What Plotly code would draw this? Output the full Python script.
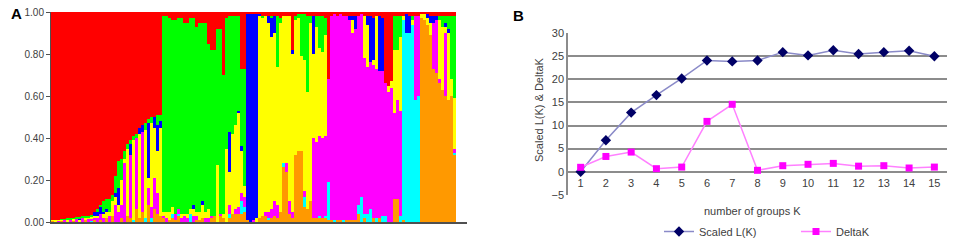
import plotly.graph_objects as go

# ---------------- Panel A : STRUCTURE membership (percent), one value per individual ----------------
RED = [
    99, 99, 99, 98.5, 98.5, 98, 98, 98, 97.5, 97.5, 97, 97, 97, 96.5, 95, 94, 92, 90, 89, 89, 87, 78, 71, 70, 66, 63, 61, 59, 58, 55, 54, 53, 51, 50, 50, 49, 49,
    2, 2, 3, 4, 4, 3, 3, 5, 5, 3, 3, 7, 5, 5, 5, 15, 18, 18, 8, 8, 30, 3, 2, 2, 2, 2, 27, 27,
    1, 1, 1, 1,
    1, 2, 2, 2, 2, 2, 2, 3, 2, 2, 2, 18, 2, 1, 1, 1, 2, 2, 2, 2, 2, 2, 3, 32,
    2, 1, 2, 1, 2, 2, 2, 2, 2, 2, 1, 2, 2, 2, 3, 2, 2, 3, 34, 35, 33, 2, 2, 2,
    2, 1, 2, 2, 2, 2,
    1, 1, 1, 2, 2, 2, 2, 2, 2, 2, 2, 2,
]
GREEN = [
    0, 0, 0, .5, .5, 1, 1, .5, 1, 1, 1, 1, 1, 1, 0, 1, 1, 5, 5, 6, 3, 8, 13, 10, 4, 2, 2, 2, 2, 0, 0, 3, 2, 3, 0, 5, 3,
    93, 93, 92, 89, 92, 91, 93, 91, 91, 91, 89, 88, 90, 85, 90, 79, 79, 79, 65, 88, 66, 62, 55, 56, 52, 45, 37, 56,
    0, 0, 0, 0,
    0, 1, 0, 0, 1, 0, 24, 2, 0, 0, 0, 0, 2, 2, 20, 22, 36, 3, 0, 5, 15, 17, 8, 0,
    0, 0, 0, 0, 0, 0, 0, 0, 0, 0, 0, 0, 0, 0, 0, 0, 0, 0, 0, 0, 0, 16, 16, 10,
    0, 0, 0, 2, 0, 0,
    0, 0, 0, 0, 0, 0, 2, 5, 3, 6, 30, 39,
]
BLUE = [
    0, 0, 0, 0, 0, 0, 0, 0, 0, .5, 0, 0, 0, 0, 2, 2, 3, 1, 1, 0, 0, 2, 8, 0, 0, 0, 5, 0, 0, 3, 3, 0, 26, 0, 5, 12, 3,
    0, 0, 0, 0, 0, 0, 0, 0, 0, 0, 2, 0, 0, 2, 0, 0, 0, 0, 0, 0, 0, 0, 19, 0, 0, 1, 2, 0,
    98, 99, 98, 97,
    1, 0, 0, 3, 9, 8, 0, 0, 0, 0, 0, 2, 0, 0, 0, 0, 0, 0, 18, 0, 0, 0, 0, 0,
    0, 0, 0, 0, 0, 0, 2, 2, 6, 0, 0, 0, 4, 22, 20, 0, 26, 25, 0, 0, 0, 0, 0, 0,
    0, 9, 8, 0, 0, 0,
    0, 0, 2, 3, 3, 2, 0, 0, 2, 2, 0, 0,
]
YELLOW = [
    .5, 1, .5, .5, 0, 1, 0, 1, 0, 1, 0, 1, .5, 1, 1, 1, 0, 2, 3, 2, 7, 4, 3, 12, 2, 32, 0, 38, 0, 40, 0, 42, 5, 40, 24, 20, 42,
    2, 3, 4, 3, 0, 0, 2, 1, 2, 2, 3, 2, 4, 6, 3, 4, 0, 0, 27, 0, 2, 35, 16, 38, 40, 45, 20, 5,
    0, 0, 0, 2,
    96, 94, 93, 90, 82, 80, 66, 90, 70, 70, 88, 75, 64, 63, 45, 62, 56, 85, 40, 55, 42, 41, 48, 0,
    0, 0, 0, 0, 0, 0, 0, 6, 0, 0, 0, 20, 20, 0, 2, 25, 0, 0, 0, 3, 3, 30, 24, 35,
    2, 0, 0, 2, 0, 0,
    2, 3, 3, 6, 0, 0, 28, 30, 3, 32, 8, 24,
]
MAGENTA = [
    0, 0, .5, 0, 1, 0, 1, 0, 1.5, 0, 2, 0, 1.5, 1, 1, 2, 3, 2, 0, 3, 0, 8, 5, 6, 28, 0, 30, 0, 34, 0, 38, 0, 8, 5, 15, 10, 0,
    1, 2, 0, 0, 3, 2, 2, 3, 2, 0, 3, 2, 0, 0, 2, 2, 1, 0, 0, 1, 0, 0, 4, 0, 2, 3, 4, 5,
    0, 0, 1, 0,
    0, 0, 2, 3, 4, 7, 6, 0, 0, 4, 6, 3, 0, 0, 0, 3, 0, 0, 38, 36, 38, 38, 38, 49,
    97, 98, 97, 98, 97, 97, 95, 89, 91, 90, 87, 74, 70, 70, 73, 71, 70, 69, 63, 62, 64, 41, 47, 50,
    0, 0, 0, 0, 40, 38,
    0, 0, 0, 0, 22, 25, 2, 0, 30, 0, 0, 2,
]
CYAN = [
    0, 0, 0, 0, 0, 0, 0, 0, 0, 0, 0, 0, 0, .5, 0, 0, 0, 0, 0, 0, 0, 0, 0, 0, 0, 0, 0, 1, 0, 0, 0, 2, 0, 2, 0, 0, 0,
    0, 0, 0, 2, 0, 1, 0, 0, 0, 4, 0, 0, 0, 0, 0, 0, 0, 0, 0, 0, 0, 0, 2, 0, 0, 0, 6, 2,
    0, 0, 0, 0,
    0, 0, 0, 1, 0, 0, 0, 0, 2, 0, 0, 0, 0, 0, 0, 5, 0, 0, 0, 0, 1, 0, 1, 18,
    0, 1, 0, 0, 1, 0, 0, 0, 0, 4, 12, 2, 4, 6, 0, 2, 0, 3, 3, 0, 0, 0, 0, 3,
    95, 90, 90, 94, 58, 60,
    0, 0, 0, 0, 0, 0, 0, 0, 0, 0, 0, 1,
]
ORANGE = [
    .5, 0, 0, .5, 0, 0, 0, .5, 0, 0, 0, 1, 0, 0, 1, 0, 1, 0, 2, 0, 3, 0, 0, 2, 0, 3, 2, 0, 6, 2, 5, 0, 8, 0, 6, 4, 3,
    2, 0, 1, 2, 1, 3, 0, 0, 0, 0, 0, 1, 1, 2, 0, 0, 2, 3, 0, 3, 2, 0, 2, 4, 4, 4, 4, 5,
    1, 0, 0, 0,
    2, 3, 3, 1, 2, 3, 2, 5, 26, 24, 4, 2, 32, 34, 34, 7, 6, 10, 2, 2, 2, 2, 2, 1,
    1, 0, 1, 1, 0, 1, 1, 1, 1, 4, 0, 2, 0, 0, 2, 0, 2, 0, 0, 0, 0, 11, 11, 0,
    1, 0, 0, 0, 0, 0,
    97, 96, 94, 89, 73, 71, 66, 63, 60, 58, 60, 32,
]
A_TICKS = [0.0, 0.2, 0.4, 0.6, 0.8, 1.0]

# ---------------- Panel B : Evanno ----------------
K = list(range(1, 16))
SCALED_LK = [0, 6.8, 12.8, 16.6, 20.2, 24.1, 23.9, 24.1, 25.9, 25.2, 26.3, 25.5, 25.9, 26.2, 25.0]
DELTA_K = [0.95, 3.3, 4.25, 0.65, 1.0, 10.9, 14.6, 0.3, 1.3, 1.6, 1.8, 1.2, 1.3, 0.8, 1.0]
B_TICKS = [-5, 0, 5, 10, 15, 20, 25, 30]

N = len(RED)
for arr in (GREEN, BLUE, YELLOW, MAGENTA, CYAN, ORANGE):
    assert len(arr) == N, len(arr)
individuals = list(range(N))

W, H = 955, 246
def fx(p):
    return p / W
def fy(p):
    return 1 - p / H

fig = go.Figure()

# stacking order bottom -> top
clusters = [
    ("orange", ORANGE, "#ff9900"),
    ("cyan", CYAN, "#00ffff"),
    ("magenta", MAGENTA, "#ff00ff"),
    ("yellow", YELLOW, "#ffff00"),
    ("blue", BLUE, "#0000ff"),
    ("green", GREEN, "#00ff00"),
    ("red", RED, "#ff0000"),
]
for name, vals, col in clusters:
    fig.add_trace(go.Bar(
        x=individuals, y=[v / 100 for v in vals], width=1,
        marker=dict(color=col, line=dict(width=0)),
        xaxis="x", yaxis="y", showlegend=False, hoverinfo="skip", name=name,
    ))

fig.add_trace(go.Scatter(
    x=K, y=SCALED_LK, mode="lines+markers", name="Scaled L(K)",
    line=dict(color="#8a8ac8", width=1.5),
    marker=dict(symbol="diamond", size=8, color="#000066"),
    xaxis="x2", yaxis="y2", legend="legend",
))
fig.add_trace(go.Scatter(
    x=K, y=DELTA_K, mode="lines+markers", name="DeltaK",
    line=dict(color="#ff80ff", width=1.5),
    marker=dict(symbol="square", size=7, color="#ff00ff"),
    xaxis="x2", yaxis="y2", legend="legend2",
))

tickfont_a = dict(family="Liberation Sans Narrow, Liberation Sans, Arial", size=10, color="#404040")
tickfont_b = dict(family="Liberation Sans, Arial", size=11, color="#404040")
txt = dict(family="Liberation Sans, Arial", size=11, color="#404040")

fig.update_layout(
    width=W, height=H, autosize=False,
    margin=dict(l=0, r=0, t=0, b=0, pad=0, autoexpand=False),
    paper_bgcolor="white", plot_bgcolor="white",
    barmode="stack", bargap=0,
    xaxis=dict(domain=[fx(51), fx(467)], range=[-0.5, N - 0.5 + 11 / 3],
               showgrid=False, zeroline=False, showticklabels=False, ticks="",
               showline=True, linecolor="#505050", linewidth=2, automargin=False),
    yaxis=dict(domain=[fy(222), fy(12)], range=[0, 1.0], tickvals=A_TICKS, tickformat=".2f",
               showgrid=False, zeroline=False, ticks="outside", ticklen=4, tickcolor="#505050",
               showline=True, linecolor="#505050", linewidth=1, tickfont=tickfont_a, anchor="x",
               automargin=False),
    xaxis2=dict(domain=[fx(568), fx(947)], range=[0.5, 15.5], tickvals=K,
                showgrid=False, zeroline=False, showline=False, ticks="",
                anchor="free", position=fy(175), tickfont=tickfont_b, automargin=False),
    yaxis2=dict(domain=[fy(195), fy(33)], range=[-5.05, 30.05], tickvals=B_TICKS,
                showgrid=True, gridcolor="#8c8c8c", gridwidth=1.6,
                zeroline=True, zerolinecolor="#8c8c8c", zerolinewidth=1.6,
                showline=True, linecolor="#8c8c8c", linewidth=1.5, ticks="",
                tickfont=tickfont_b, anchor="x2", automargin=False),
    legend=dict(x=fx(659), y=0, xanchor="left", yanchor="bottom", orientation="h",
                font=txt, bgcolor="rgba(0,0,0,0)"),
    legend2=dict(x=fx(796), y=0, xanchor="left", yanchor="bottom", orientation="h",
                 font=txt, bgcolor="rgba(0,0,0,0)"),
    annotations=[
        dict(text="<b>A</b>", x=fx(16), y=fy(14), xref="paper", yref="paper", showarrow=False,
             xanchor="center", yanchor="middle",
             font=dict(family="Liberation Sans, Arial", size=15, color="black")),
        dict(text="<b>B</b>", x=fx(518), y=fy(15), xref="paper", yref="paper", showarrow=False,
             xanchor="center", yanchor="middle",
             font=dict(family="Liberation Sans, Arial", size=15, color="black")),
        dict(text="number of groups K", x=fx(752), y=fy(211), xref="paper", yref="paper", showarrow=False,
             xanchor="center", yanchor="middle", font=txt),
        dict(text="Scaled L(K) & DeltaK", x=fx(539), y=fy(110), xref="paper", yref="paper", showarrow=False,
             xanchor="center", yanchor="middle", textangle=-90, font=txt),
    ],
)

fig.write_html("out.html", config={"displayModeBar": False},
               post_script="document.body.style.margin='0px';document.body.style.overflow='hidden';")
